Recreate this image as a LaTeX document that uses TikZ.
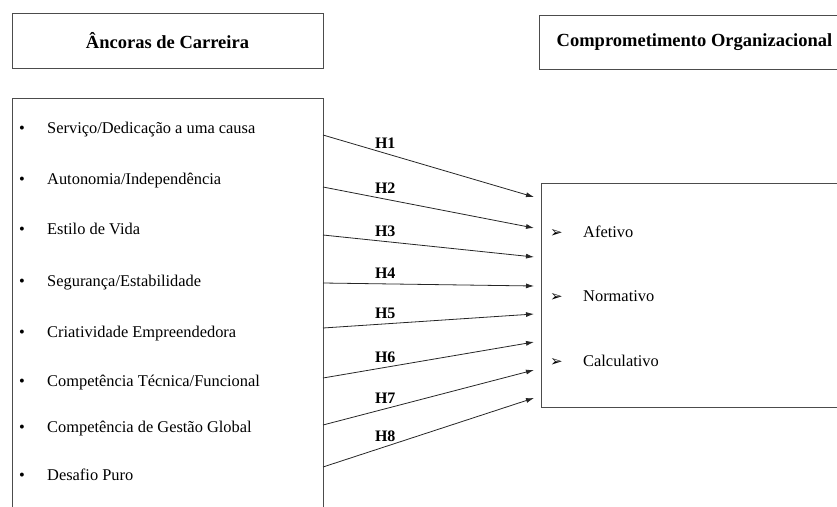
\documentclass[tikz,border=0pt]{standalone}
\usepackage{fontspec}
\setmainfont{Liberation Serif}
\newfontfamily\symfont{DejaVu Sans}
\usetikzlibrary{arrows.meta}
\begin{document}
\begin{tikzpicture}[x=1pt,y=-1pt,
  boxstyle/.style={draw=black!70,line width=1pt,rectangle,inner sep=0pt},
  headtxt/.style={font=\fontsize{18.5}{20}\selectfont\bfseries},
  itemtxt/.style={font=\fontsize{16.4}{18}\selectfont,anchor=base west,inner sep=0pt},
  hyparrow/.style={draw=black!85,line width=0.8pt,-{Latex[length=8pt,width=5pt]}},
  hlabel/.style={font=\fontsize{16}{18}\selectfont\bfseries,inner sep=0pt}]
\useasboundingbox (0,0) rectangle (837,506);
% header boxes
\node[boxstyle,minimum width=311pt,minimum height=55pt,headtxt] (topL) at (167.5,40.5) {Âncoras de Carreira};
\node[boxstyle,minimum width=311pt,minimum height=54pt,headtxt] (topR) at (694.5,42) {Comprometimento Organizacional};
% main boxes
\node[boxstyle,minimum width=311pt,minimum height=416pt] (leftbox) at (167.5,306) {};
\node[boxstyle,minimum width=309pt,minimum height=224pt] (rightbox) at (695.5,295) {};
% left items
\foreach \y/\t [count=\i] in {128/{Serviço/Dedicação a uma causa},179/{Autonomia/Independência},229/{Estilo de Vida},281/{Segurança/Estabilidade},332/{Criatividade Empreendedora},381/{Competência Técnica/Funcional},427/{Competência de Gestão Global},475/{Desafio Puro}}{
  \node[itemtxt] (bl\i) at (19,\y+5) {•};
  \node[itemtxt] (it\i) at (47,\y+5) {\t};
}
% right items
\foreach \y/\t [count=\i] in {232/Afetivo,296/Normativo,361/Calculativo}{
  \node[itemtxt,font=\fontsize{15}{16}\selectfont\symfont] (br\i) at (550,\y+5) {➢};
  \node[itemtxt] (ri\i) at (583,\y+5) {\t};
}
% connector endpoints
\foreach \i/\a/\b in {1/135/197,2/187/228,3/235/257,4/283/286,5/328/314,6/378/342,7/425/370,8/467/398}{
  \coordinate (s\i) at (323,\a);
  \coordinate (t\i) at (534,\b);
}
\foreach \i in {1,...,8}{
  \draw[hyparrow] (s\i) -- node[pos=0.295,yshift=10.5pt,hlabel] {H\i} (t\i);
}
\end{tikzpicture}
\end{document}
